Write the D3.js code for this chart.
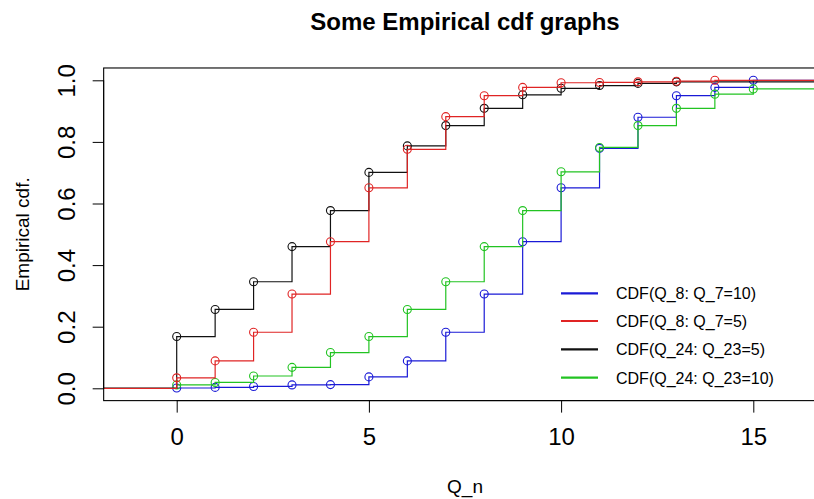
<!DOCTYPE html>
<html>
<head>
<meta charset="utf-8">
<script src="https://cdn.jsdelivr.net/npm/d3@7"></script>
<style>
  html, body { margin: 0; padding: 0; background: #fff; }
  svg { display: block; font-family: Arial, "Liberation Sans", sans-serif; }
</style>
</head>
<body>
<svg id="chart" width="814" height="499"></svg>
<script>
// ---- data ----
const qnBlue  = [0, 1, 2, 3, 4, 5, 6, 7, 8, 9, 10, 11, 12, 13, 14, 15];
const cdfBlue = [0.001, 0.003, 0.006, 0.011, 0.012, 0.037, 0.089, 0.182, 0.306, 0.476, 0.651, 0.779, 0.880, 0.950, 0.977, 1.0];

const qnRed  = [0, 1, 2, 3, 4, 5, 6, 7, 8, 9, 10, 11, 12, 13, 14];
const cdfRed = [0.034, 0.089, 0.182, 0.306, 0.476, 0.651, 0.776, 0.882, 0.950, 0.977, 0.992, 0.993, 0.995, 0.997, 1.0];

const qnBlack  = [0, 1, 2, 3, 4, 5, 6, 7, 8, 9, 10, 11, 12, 13];
const cdfBlack = [0.168, 0.256, 0.346, 0.460, 0.577, 0.701, 0.787, 0.853, 0.909, 0.953, 0.974, 0.983, 0.990, 0.995];

const qnGreen  = [0, 1, 2, 3, 4, 5, 6, 7, 8, 9, 10, 11, 12, 13, 14, 15];
const cdfGreen = [0.011, 0.019, 0.040, 0.068, 0.116, 0.168, 0.256, 0.346, 0.460, 0.577, 0.703, 0.782, 0.853, 0.909, 0.955, 0.972];

const seriesNames = ["CDF(Q_8: Q_7=10)", "CDF(Q_8: Q_7=5)", "CDF(Q_24: Q_23=5)", "CDF(Q_24: Q_23=10)"];
const xTicks = [0, 5, 10, 15];
const yTicks = [0, 0.2, 0.4, 0.6, 0.8, 1.0];
const titleText = "Some Empirical cdf graphs";
const xLabel = "Q_n";
const yLabel = "Empirical cdf.";

// ---- layout ----
const colors = ["#1a1ad6", "#e02424", "#111111", "#22c322"];
const series = [
  { name: seriesNames[0], xs: qnBlue,  ys: cdfBlue,  color: colors[0] },
  { name: seriesNames[1], xs: qnRed,   ys: cdfRed,   color: colors[1] },
  { name: seriesNames[2], xs: qnBlack, ys: cdfBlack, color: colors[2] },
  { name: seriesNames[3], xs: qnGreen, ys: cdfGreen, color: colors[3] }
];

const svg = d3.select("#chart");

const x = d3.scaleLinear().domain([0, 15]).range([176.7, 753.3]);
const y = d3.scaleLinear().domain([0, 1]).range([388.3, 80.3]);
const xMin = -1.9, xMax = 16.9;
const yMin = -0.04, yMax = 1.04;
const L = x(xMin), R = x(xMax), T = y(yMax), B = y(yMin);

svg.append("defs").append("clipPath").attr("id", "plotclip")
  .append("rect").attr("x", L).attr("y", T).attr("width", R - L).attr("height", B - T);

const plot = svg.append("g").attr("clip-path", "url(#plotclip)");

// draw order: blue, green, black, red
const order = [0, 3, 2, 1];
order.forEach(i => {
  const s = series[i];
  let d = `M${x(xMin - 1)},${y(0)}`;
  s.xs.forEach((xv, k) => {
    d += `H${x(xv)}V${y(s.ys[k])}`;
  });
  d += `H${x(xMax + 1)}`;
  plot.append("path")
    .attr("d", d)
    .attr("fill", "none")
    .attr("stroke", s.color)
    .attr("stroke-width", 1.2);
  plot.selectAll(null)
    .data(s.xs.map((xv, k) => [xv, s.ys[k]]))
    .enter().append("circle")
    .attr("cx", d => x(d[0]))
    .attr("cy", d => y(d[1]))
    .attr("r", 4)
    .attr("fill", "none")
    .attr("stroke", s.color)
    .attr("stroke-width", 1.1);
});

// box
svg.append("rect")
  .attr("x", L).attr("y", T).attr("width", R - L).attr("height", B - T)
  .attr("fill", "none").attr("stroke", "#000").attr("stroke-width", 1.1);

// x axis
const xAxis = svg.append("g")
  .attr("transform", `translate(0,${B})`)
  .call(d3.axisBottom(x).tickValues(xTicks).tickSize(12).tickPadding(15).tickFormat(d3.format("d")));
xAxis.select(".domain").attr("stroke", "#000").attr("d", `M${x(0)},0H${x(15)}`);
xAxis.selectAll("text").attr("font-size", 24).attr("fill", "#000").attr("font-family", "Arial, 'Liberation Sans', sans-serif");

// y axis
const yAxis = svg.append("g")
  .attr("transform", `translate(${L},0)`)
  .call(d3.axisLeft(y).tickValues(yTicks).tickSize(11).tickFormat(d3.format(".1f")));
yAxis.select(".domain").attr("d", `M0,${y(0)}V${y(1)}`);
yAxis.selectAll("text")
  .attr("font-size", 24).attr("fill", "#000")
  .attr("font-family", "Arial, 'Liberation Sans', sans-serif")
  .attr("transform", "rotate(-90)")
  .attr("x", 0).attr("y", -(L - 75)).attr("dy", 0)
  .attr("text-anchor", "middle");

// title
svg.append("text")
  .attr("x", (L + R) / 2).attr("y", 30)
  .attr("text-anchor", "middle")
  .attr("font-size", 24).attr("font-weight", "bold")
  .text(titleText);

// axis labels
svg.append("text")
  .attr("x", (L + R) / 2).attr("y", 493)
  .attr("text-anchor", "middle")
  .attr("font-size", 19)
  .text(xLabel);

svg.append("text")
  .attr("transform", `translate(29,${(T + B) / 2}) rotate(-90)`)
  .attr("text-anchor", "middle")
  .attr("font-size", 19)
  .text(yLabel);

// legend
const legRows = [293.3, 321, 349.3, 377.7];
const leg = svg.append("g");
series.forEach((s, i) => {
  leg.append("line")
    .attr("x1", 561).attr("x2", 598)
    .attr("y1", legRows[i]).attr("y2", legRows[i])
    .attr("stroke", s.color).attr("stroke-width", 2.2);
  leg.append("text")
    .attr("x", 616).attr("y", legRows[i] + 5.8)
    .attr("font-size", 16)
    .text(s.name);
});
</script>
</body>
</html>
